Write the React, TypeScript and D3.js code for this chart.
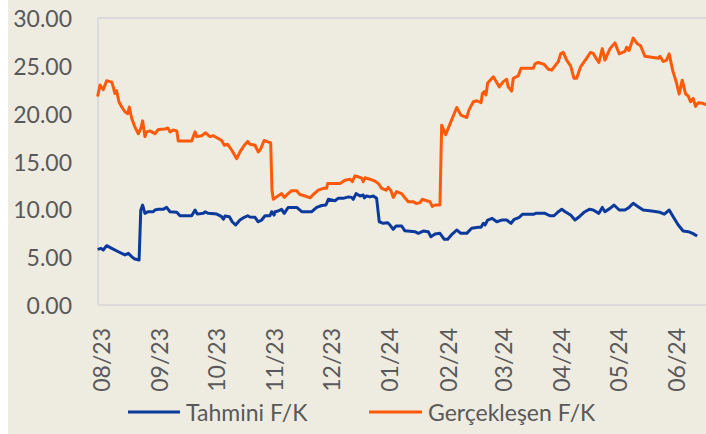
import React from "react";
import * as d3 from "d3";

// Tick labels (month/year)
const monthLabels = ["08/23", "09/23", "10/23", "11/23", "12/23", "01/24", "02/24", "03/24", "04/24", "05/24", "06/24"];
const yTicks = [0, 5, 10, 15, 20, 25, 30];
const seriesNames = ["Tahmini F/K", "Gerçekleşen F/K"];

// [days since 2023-08-01, value]
const tahmini: [number, number][] = [
  [-1.8, 5.82], [0, 5.92], [1.2, 5.75], [3.0, 6.2], [5.7, 5.92], [9.2, 5.57], [12.7, 5.23], [14.5, 5.4], [16.3, 5.05], [18.0, 4.8], [20.2, 4.7],
  [21.1, 9.93], [22.1, 10.45], [23.3, 9.58], [25.1, 9.75], [27.7, 9.75], [28.6, 9.93], [30.4, 10.0], [33.0, 10.0], [34.8, 10.2], [36.6, 9.75],
  [40.2, 9.7], [41.9, 9.33], [48.1, 9.33], [49.9, 9.93], [51.1, 9.5], [54.3, 9.58], [55.2, 9.75], [56.9, 9.58], [61.4, 9.5], [64.0, 9.23],
  [64.9, 8.96], [65.8, 9.3], [68.1, 9.23], [69.6, 8.7], [71.4, 8.36], [73.7, 8.88], [76.0, 9.17], [77.8, 9.33], [79.0, 9.2], [81.7, 9.17],
  [83.4, 8.7], [85.2, 8.88], [87.0, 9.33], [89.6, 9.33], [90.5, 9.75], [91.8, 9.4], [92.3, 9.75], [94.0, 9.83], [95.8, 10.0], [97.2, 9.58],
  [99.3, 10.2], [103.8, 10.2], [106.5, 9.75], [111.8, 9.75], [114.4, 10.2], [117.1, 10.4], [119.3, 10.45], [120.6, 11.05], [124.1, 10.9],
  [125.9, 11.15], [128.5, 11.15], [131.2, 11.3], [133.0, 11.25], [133.8, 11.05], [135.3, 11.65], [137.4, 11.4], [139.1, 11.5], [139.7, 11.2],
  [140.9, 11.4], [142.7, 11.3], [144.4, 11.4], [146.2, 11.15], [147.6, 8.7], [149.7, 8.54], [152.1, 8.6], [153.3, 8.36], [155.0, 7.91],
  [156.5, 8.26], [159.5, 8.26], [161.2, 7.75], [163.9, 7.7], [166.5, 7.66], [168.3, 7.49], [170.9, 7.73], [173.6, 7.66], [175.0, 7.14],
  [177.2, 7.42], [179.8, 7.49], [182.1, 6.87], [183.9, 6.87], [186.3, 7.42], [188.7, 7.84], [190.9, 7.49], [194.0, 7.49], [196.6, 8.02],
  [200.1, 8.12], [201.6, 8.12], [202.8, 8.54], [203.7, 8.36], [205.1, 8.88], [207.5, 9.06], [209.9, 8.7], [212.5, 8.88], [215.2, 8.88],
  [217.5, 8.54], [219.2, 8.96], [221.9, 9.17], [223.5, 9.48], [229.3, 9.48], [230.6, 9.58], [235.5, 9.58], [238.1, 9.33], [240.3, 9.33],
  [242.6, 9.75], [244.4, 10.0], [246.2, 9.75], [249.1, 9.4], [251.4, 8.88], [253.7, 9.23], [256.2, 9.69], [259.0, 10.0], [261.1, 9.93],
  [264.1, 9.58], [265.9, 10.2], [267.3, 9.75], [270.0, 10.1], [272.1, 10.45], [274.9, 9.93], [277.9, 9.93], [280.1, 10.2], [282.3, 10.63],
  [284.9, 10.28], [287.6, 9.93], [292.1, 9.83], [296.5, 9.69], [298.8, 9.5], [301.4, 9.93], [303.5, 9.23], [306.2, 8.36], [308.8, 7.73],
  [311.5, 7.66], [313.8, 7.49], [316.2, 7.21],
];

const gerceklesen: [number, number][] = [
  [-1.8, 21.8], [-0.5, 23.0], [1.2, 22.5], [3.0, 23.45], [5.7, 23.3], [6.5, 22.8], [7.4, 22.1], [8.3, 22.4], [9.5, 21.25], [11.0, 20.7],
  [12.7, 20.2], [14.2, 20.0], [15.0, 20.7], [16.3, 19.5], [18.0, 18.6], [19.8, 17.9], [21.1, 18.45], [22.1, 19.25], [23.3, 17.6], [24.2, 18.1],
  [26.0, 18.2], [28.6, 17.9], [30.4, 18.35], [33.9, 18.4], [35.4, 18.5], [36.6, 18.1], [38.3, 18.3], [40.2, 18.2], [41.0, 17.15], [48.1, 17.15],
  [49.9, 18.1], [50.8, 17.6], [53.4, 17.7], [55.5, 18.0], [57.8, 17.6], [59.6, 17.7], [62.2, 17.4], [64.0, 17.2], [65.4, 16.7], [67.2, 16.8],
  [69.3, 16.2], [72.0, 15.3], [73.7, 16.0], [76.0, 16.7], [77.8, 17.1], [79.0, 16.8], [81.7, 16.7], [83.4, 16.0], [84.7, 16.3], [86.5, 17.2],
  [90.0, 16.95], [90.7, 12.0], [91.4, 11.05], [93.2, 11.3], [95.8, 11.65], [97.2, 11.25], [98.5, 11.5], [101.1, 11.95], [103.8, 11.95],
  [105.5, 11.55], [108.2, 11.4], [110.9, 11.2], [112.6, 11.55], [115.3, 12.0], [117.9, 12.2], [119.7, 12.2], [120.2, 12.7], [126.8, 12.7],
  [129.4, 13.05], [132.1, 13.15], [133.3, 12.9], [134.7, 13.5], [136.5, 13.4], [138.3, 13.25], [139.1, 12.9], [140.0, 13.3], [142.7, 13.15],
  [145.3, 12.95], [147.1, 12.7], [148.9, 12.2], [151.2, 12.0], [152.4, 12.3], [153.8, 11.95], [155.0, 11.25], [156.8, 11.85], [159.5, 11.65],
  [161.2, 11.2], [163.0, 10.8], [165.6, 10.8], [167.4, 10.6], [169.2, 10.7], [170.4, 11.05], [172.8, 10.9], [174.5, 10.8], [175.7, 10.3],
  [177.2, 10.45], [179.8, 10.45], [180.7, 18.8], [182.8, 17.8], [186.0, 19.35], [188.7, 20.65], [190.9, 19.85], [194.0, 19.6], [195.2, 20.4],
  [197.5, 21.25], [199.3, 21.35], [201.6, 21.15], [202.3, 22.1], [203.3, 22.3], [204.2, 21.95], [205.1, 23.2], [208.1, 23.85], [211.3, 22.8],
  [213.4, 23.35], [215.2, 23.6], [216.0, 22.8], [217.8, 22.35], [218.7, 23.7], [221.3, 23.95], [222.8, 24.75], [229.3, 24.75], [230.2, 25.2],
  [231.9, 25.35], [235.1, 25.15], [237.3, 24.65], [239.1, 24.55], [240.8, 25.0], [242.6, 25.45], [243.8, 26.25], [245.2, 26.4], [247.0, 25.6],
  [249.1, 25.0], [250.9, 23.7], [252.3, 23.7], [254.4, 24.9], [256.7, 25.55], [259.7, 26.4], [261.1, 26.3], [262.9, 25.7], [264.1, 25.35],
  [265.9, 26.8], [267.3, 25.6], [270.0, 26.8], [272.6, 27.4], [274.9, 26.25], [277.9, 26.5], [278.8, 26.95], [280.1, 26.6], [282.3, 27.9],
  [284.5, 27.3], [286.2, 27.1], [288.5, 26.0], [292.1, 25.9], [295.6, 25.8], [296.5, 26.0], [298.2, 25.45], [300.0, 25.6], [301.4, 26.25],
  [303.2, 24.55], [305.3, 23.2], [306.7, 22.05], [308.3, 23.5], [310.1, 22.05], [311.5, 21.85], [312.7, 21.25], [314.1, 21.6], [315.4, 20.75],
  [316.8, 21.15], [319.1, 21.1], [320.9, 20.9],
];

const BLUE = "#0b3a9c";
const ORANGE = "#ff5a0a";
const TEXT = "#595959";
const FONT = "Lato, 'Open Sans', sans-serif";

export default function App() {
  const W = 706, H = 434;
  const plotLeft = 98, plotTop = 18, plotBottom = 305, plotRight = 706;

  const parseMonth = d3.timeParse("%m/%y");
  const start = parseMonth(monthLabels[0]) as Date;
  const tickDays = monthLabels.map((l) => d3.timeDay.count(start, parseMonth(l) as Date));

  const x = d3.scaleLinear().domain([0, tickDays[tickDays.length - 1]]).range([101, 676]);
  const y = d3.scaleLinear().domain([0, 30]).range([plotBottom, plotTop]);

  const line = d3
    .line<[number, number]>()
    .x((d) => x(d[0]))
    .y((d) => y(d[1]))
    .curve(d3.curveLinear);

  return (
    <div style={{ position: "fixed", left: 0, top: 0, width: W, height: H, background: "#fff" }}>
      <svg width={W} height={H} style={{ display: "block" }}>
        <rect x={8} y={0} width={W - 8} height={H} fill="#eeebe1" />
        <defs>
          <clipPath id="plotclip">
            <rect x={plotLeft - 4} y={0} width={plotRight - plotLeft + 4} height={plotBottom + 4} />
          </clipPath>
        </defs>
        {/* frame */}
        <line x1={plotLeft} x2={plotRight} y1={plotTop} y2={plotTop} stroke="#d3d3da" strokeWidth={1.3} />
        <line x1={plotLeft} x2={plotLeft} y1={plotTop} y2={plotBottom} stroke="#d3d3da" strokeWidth={1.3} />
        <line x1={plotLeft} x2={plotRight} y1={plotBottom} y2={plotBottom} stroke="#d6d6d6" strokeWidth={1.6} />

        {/* y labels */}
        {yTicks.map((t) => (
          <text key={t} x={72} y={y(t)} textAnchor="end" dominantBaseline="central" fill={TEXT} fontFamily={FONT} fontSize={23}>
            {d3.format(".2f")(t)}
          </text>
        ))}

        {/* x labels */}
        {monthLabels.map((l, i) => (
          <text
            key={l}
            transform={`translate(${x(tickDays[i])},328) rotate(-90)`}
            textAnchor="end"
            dominantBaseline="central"
            fill={TEXT}
            fontFamily={FONT}
            fontSize={23}
          >
            {l}
          </text>
        ))}

        <g clipPath="url(#plotclip)">
          <path d={line(gerceklesen) || ""} fill="none" stroke={ORANGE} strokeWidth={3} strokeLinejoin="round" />
          <path d={line(tahmini) || ""} fill="none" stroke={BLUE} strokeWidth={3} strokeLinejoin="round" />
        </g>

        {/* legend */}
        <line x1={128} x2={180} y1={412} y2={412} stroke={BLUE} strokeWidth={3} />
        <text x={186} y={412} dominantBaseline="central" fill={TEXT} fontFamily={FONT} fontSize={23}>
          {seriesNames[0]}
        </text>
        <line x1={369} x2={422} y1={412} y2={412} stroke={ORANGE} strokeWidth={3} />
        <text x={428} y={412} dominantBaseline="central" fill={TEXT} fontFamily={FONT} fontSize={23}>
          {seriesNames[1]}
        </text>
      </svg>
    </div>
  );
}
